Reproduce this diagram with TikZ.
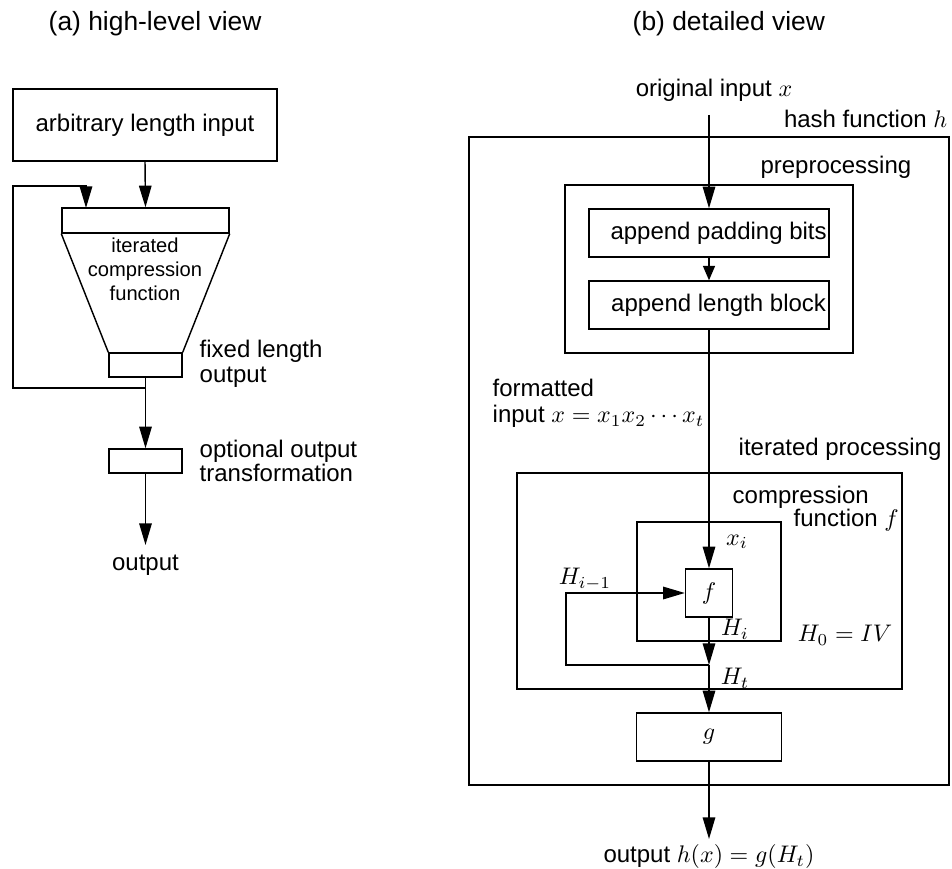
\documentclass[tikz,border=0pt]{standalone}
\usepackage{fontspec}
\setmainfont{Liberation Sans}
\usetikzlibrary{arrows.meta,calc}
\begin{document}
\begin{tikzpicture}[x=0.4167pt,y=-0.4167pt,line width=0.6pt,
  box/.style 2 args={draw,inner sep=0pt,minimum width=#1*0.4167pt,minimum height=#2*0.4167pt,font=\fontsize{10}{10.3}\selectfont},
  txt/.style={inner sep=0pt,font=\fontsize{10}{10.3}\selectfont},
  titletxt/.style={inner sep=0pt,font=\fontsize{11}{12}\selectfont},
  smalltxt/.style={inner sep=0pt,font=\fontsize{8.4}{10}\selectfont},
  arr/.style={-{Triangle[length=9pt,width=5.2pt]}},
  sarr/.style={-{Triangle[length=6pt,width=5pt]}}]
\useasboundingbox (0,0) rectangle (952,869);

% ---------- (a) high-level view ----------
\node[titletxt,anchor=west] (ta) at (48,24) {(a) high-level view};
\node[box={264}{72}] (ain) at (145,125) {arbitrary length input};
\node[box={167}{25}] (top) at (145.5,220.5) {};
\node[box={73}{24}] (fout) at (145.5,365) {};
\draw (top.south west) -- (fout.north west);
\draw (top.south east) -- (fout.north east);
\node[smalltxt,align=center] (icf) at (145,269) {iterated\\compression\\function};
\draw[arr] (ain.south) -- (top.north);
\coordinate (j1) at (145.5,388);
\coordinate (fb) at (86,208);
\draw (fout.south) -- (j1);
\draw[arr] (j1) -- (13,388) -- (13,186) -- (86,186) -- (fb);
\node[txt,anchor=west,align=left] (flo) at (199,364) {fixed length\\output};
\node[box={73}{24}] (opt) at (145.5,461) {};
\draw[arr] (j1) -- (opt.north);
\node[txt,anchor=west,align=left] (oot) at (199,461) {optional output\\transformation};
\node[txt,anchor=north,inner ysep=4pt] (out) at (145.5,545) {output};
\draw[arr] (opt.south) -- (out.north);

% ---------- (b) detailed view ----------
\node[titletxt,anchor=west] (tb) at (632,24) {(b) detailed view};
\node[txt] (oix) at (714,90) {original input $x$};
\coordinate (s0) at (709,115);
\node[box={480}{648}] (hash) at (709,461) {};
\node[txt,anchor=east] (hl) at (948,119) {hash function $h$};
\node[box={288}{168}] (pre) at (709,269) {};
\node[txt,anchor=east] (pl) at (912,167) {preprocessing};
\node[box={240}{48}] (pad) at (709,233) {\hspace{8pt}append padding bits};
\node[box={240}{48}] (len) at (709,305) {\hspace{8pt}append length block};
\draw[arr] (s0) -- (pad.north);
\draw[sarr] (pad.south) -- (len.north);
\node[txt,anchor=west,align=left,font=\fontsize{10}{11}\selectfont] (fi) at (492,403) {formatted\\input $x=x_1x_2\cdots x_t$};
\node[box={385}{216}] (itp) at (709.5,581) {};
\node[txt,anchor=west] (ipl) at (738,449) {iterated processing};
\node[box={144}{119}] (cf) at (709,581.5) {};
\node[txt,anchor=west] (cfl1) at (732,497) {compression};
\node[txt,anchor=west] (cfl2) at (793,520) {function $f$};
\node[box={47}{48}] (f) at (709,593) {$f$};
\draw[arr] (len.south) -- (f.north);
\node[txt] (xi) at (737,542) {$x_i$};
\coordinate (jh) at (709,665);
\draw[arr] (f.south) -- (jh);
\draw[arr] (jh) -- (566,665) -- (566,593) -- (f.west);
\node[txt] (hm1) at (585,579) {$H_{i-1}$};
\node[txt] (hi) at (735,629) {$H_i$};
\node[txt] (h0) at (845,635) {$H_0=IV$};
\node[txt] (ht) at (735,678) {$H_t$};
\node[box={145}{48}] (g) at (709,737) {$g$};
\draw[arr] (jh) -- (g.north);
\node[txt,anchor=north,inner ysep=2pt] (outb) at (709,839) {output $h(x)=g(H_t)$};
\draw[arr] (g.south) -- (outb.north);
\end{tikzpicture}
\end{document}
